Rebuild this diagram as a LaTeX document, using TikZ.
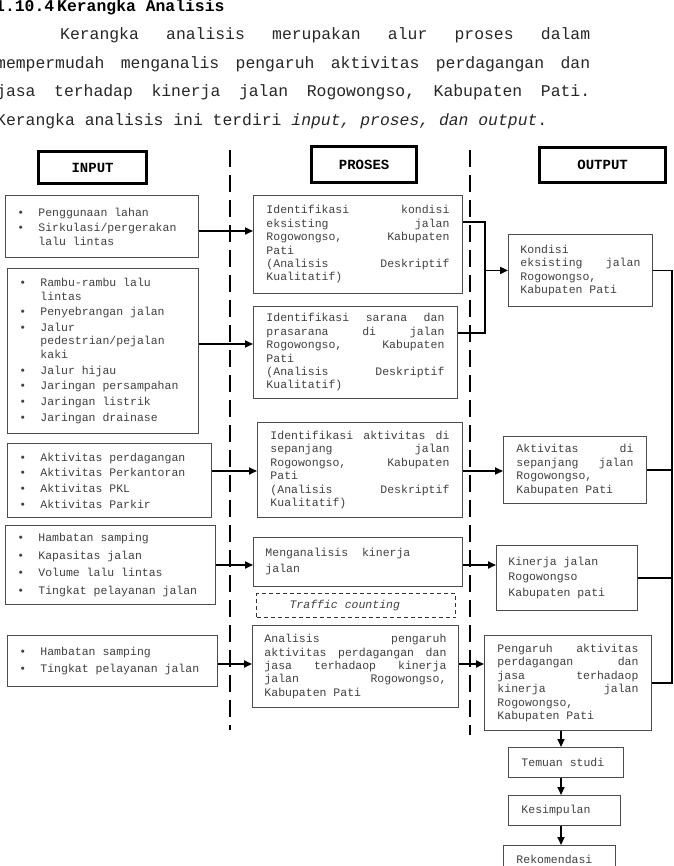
\documentclass[tikz,border=0pt]{standalone}
\usepackage{fontspec}
\newfontfamily\cour{Liberation Mono}
\usetikzlibrary{arrows.meta}
\setlength{\parindent}{0pt}

\newcommand{\itm}{\makebox[21pt][l]{\textbullet}}
\newcommand{\cnt}{\hspace*{21pt}}

\tikzset{
  box/.style={draw=black!70, line width=0.9pt, anchor=north west, inner ysep=0pt, align=left, text=black!75, font=\cour\fontsize{11.5}{13.4}\selectfont,
    execute at begin node={\spaceskip=0.6em\relax\xspaceskip=0.6em\relax}},
  title/.style={draw, line width=3.2pt, anchor=north west, inner sep=0pt, font=\cour\bfseries\fontsize{14}{16}\selectfont},
  arr/.style={line width=1.8pt, -{Triangle[length=8pt,width=7pt]}},
  ln/.style={line width=1.8pt},
  divider/.style={line width=2.5pt, dash pattern=on 17pt off 8pt},
  para/.style={anchor=base west, inner sep=0pt, text=black!85, font=\cour\fontsize{16.4}{20}\selectfont,
    execute at begin node={\spaceskip=0.6em\relax\xspaceskip=0.6em\relax}},
}

\begin{document}
\begin{tikzpicture}[x=1pt,y=-1pt]
\useasboundingbox (0,0) rectangle (673,866);

% heading and paragraph
\node[para, font=\cour\bfseries\fontsize{16.4}{20}\selectfont, text=black] (hd) at (-5,12) {1.10.4\hspace{3pt}Kerangka Analisis};
\node[para, text width=530pt] (l1) at (60,40) {Kerangka \hfill analisis \hfill merupakan \hfill alur \hfill proses \hfill dalam};
\node[para, text width=594pt] (l2) at (-4,68.5) {mempermudah \hfill menganalis \hfill pengaruh \hfill aktivitas \hfill perdagangan \hfill dan};
\node[para, text width=594pt] (l3) at (-4,97) {jasa \hfill terhadap \hfill kinerja \hfill jalan \hfill Rogowongso, \hfill Kabupaten \hfill Pati.};
\node[para] (l4) at (-4,125.5) {Kerangka analisis ini terdiri \textit{input, proses, dan output}.};

% column titles
\node[title, minimum width=108pt, minimum height=32pt] (tin) at (37,150) {INPUT};
\node[title, minimum width=105pt, minimum height=36pt] (tpr) at (310,145) {PROSES};
\node[title, minimum width=126pt, minimum height=35pt] (tout) at (538,146) {OUTPUT};

% dividers
\draw[divider] (230,150) -- (230,730);
\draw[divider] (470,150) -- (470,735);

% input
\node[box, inner xsep=12pt, text width=169pt, minimum height=62pt] (in1) at (5,195)
  {\itm Penggunaan lahan\\[2.3pt]\itm Sirkulasi/pergerakan\\\cnt lalu lintas};
\node[box, inner xsep=12pt, text width=167pt, minimum height=165pt] (in2) at (7,268)
  {\itm Rambu-rambu lalu\\\cnt lintas\\[2.3pt]\itm Penyebrangan jalan\\[2.3pt]\itm Jalur\\\cnt pedestrian/pejalan\\\cnt kaki\\[2.3pt]\itm Jalur hijau\\[2.3pt]\itm Jaringan persampahan\\[2.3pt]\itm Jaringan listrik\\[2.3pt]\itm Jaringan drainase};
\node[box, inner xsep=12pt, text width=180pt, minimum height=74pt] (in3) at (7,443)
  {\itm Aktivitas perdagangan\\[2.3pt]\itm Aktivitas Perkantoran\\[2.3pt]\itm Aktivitas PKL\\[2.3pt]\itm Aktivitas Parkir};
\node[box, inner xsep=12pt, text width=186pt, minimum height=79pt] (in4) at (5,525)
  {\itm Hambatan samping\\[4.3pt]\itm Kapasitas jalan\\[4.3pt]\itm Volume lalu lintas\\[4.3pt]\itm Tingkat pelayanan jalan};
\node[box, inner xsep=12pt, text width=186pt, minimum height=51pt] (in5) at (7,635)
  {\itm Hambatan samping\\[4.3pt]\itm Tingkat pelayanan jalan};

% proses
\node[box, inner xsep=13pt, text width=183pt, minimum height=98pt] (p1) at (253,195)
  {Identifikasi \hfill kondisi\\eksisting \hfill jalan\\Rogowongso, \hfill Kabupaten\\Pati\\(Analisis \hfill Deskriptif\\Kualitatif)};
\node[box, inner xsep=13pt, text width=178pt, minimum height=92pt] (p2) at (253,306)
  {Identifikasi \hfill sarana \hfill dan\\prasarana \hfill di \hfill jalan\\Rogowongso, \hfill Kabupaten\\Pati\\(Analisis \hfill Deskriptif\\Kualitatif)};
\node[box, inner xsep=13pt, text width=179pt, minimum height=95pt] (p3) at (257,422)
  {Identifikasi \hfill aktivitas \hfill di\\sepanjang \hfill jalan\\Rogowongso, \hfill Kabupaten\\Pati\\(Analisis \hfill Deskriptif\\Kualitatif)};
\node[box, inner xsep=12pt, text width=185pt, minimum height=49pt] (p4) at (253,537)
  {Menganalisis\hspace{13.8pt}kinerja\\[2.6pt]jalan};
\node[box, draw=black!80, dash pattern=on 4pt off 3pt, line width=1.1pt, inner xsep=33pt, text width=133pt, minimum height=24pt] (trf) at (256,593)
  {\textit{Traffic counting}};
\node[box, inner xsep=12pt, text width=182pt, minimum height=82pt] (p5) at (252,625)
  {Analisis \hfill pengaruh\\aktivitas \hfill perdagangan \hfill dan\\jasa \hfill terhadaop \hfill kinerja\\jalan \hfill Rogowongso,\\Kabupaten Pati};

% output
\node[box, inner xsep=12pt, text width=120pt, minimum height=72pt] (out1) at (508,234)
  {Kondisi\\eksisting \hfill jalan\\Rogowongso,\\Kabupaten Pati};
\node[box, inner xsep=13pt, text width=117pt, minimum height=67pt] (out2) at (503,436)
  {Aktivitas \hfill di\\sepanjang \hfill jalan\\Rogowongso,\\Kabupaten Pati};
\node[box, inner xsep=12pt, text width=117pt, minimum height=65pt] (out3) at (496,545)
  {Kinerja jalan\\[2.3pt]Rogowongso\\[2.3pt]Kabupaten pati};
\node[box, inner xsep=13pt, text width=141pt, minimum height=95pt] (out4) at (484,635)
  {Pengaruh \hfill aktivitas\\perdagangan \hfill dan\\jasa \hfill terhadaop\\kinerja \hfill jalan\\Rogowongso,\\Kabupaten Pati};
\node[box, inner xsep=13pt, text width=89pt, minimum height=30pt] (tem) at (508,747) {Temuan studi};
\node[box, inner xsep=13pt, text width=86pt, minimum height=30pt] (kes) at (508,795) {Kesimpulan};
\node[box, inner xsep=13pt, text width=86pt, minimum height=28pt] (rek) at (503,845) {Rekomendasi};

% rows and turning points
\coordinate (r1) at (0,231);
\coordinate (r2) at (0,344);
\coordinate (r3) at (0,471);
\coordinate (r4) at (0,565);
\coordinate (r5) at (0,664);
\coordinate (b1) at (485,222);
\coordinate (b2) at (485,333);
\coordinate (cx) at (672,0);
\coordinate (vx) at (561,0);

% input -> proses
\draw[arr] (in1.east |- r1) -- (p1.west |- r1);
\draw[arr] (in2.east |- r2) -- (p2.west |- r2);
\draw[arr] (in3.east |- r3) -- (p3.west |- r3);
\draw[arr] (in4.east |- r4) -- (p4.west |- r4);
\draw[arr] (in5.east |- r5) -- (p5.west |- r5);

% proses -> output
\draw[ln] (p1.east |- b1) -- (b1) -- (b2) -- (p2.east |- b2);
\draw[arr] (b1 |- out1.west) -- (out1.west);
\draw[arr] (p3.east |- r3) -- (out2.west |- r3);
\draw[arr] (p4.east |- r4) -- (out3.west |- r4);
\draw[arr] (p5.east |- r5) -- (out4.west |- r5);

% output collector
\draw[ln] (out1.east) -| (cx |- out4.east) -- (out4.east);
\draw[ln] (out2.east) -- (out2.east -| cx);
\draw[ln] (out3.east) -- (out3.east -| cx);

% final chain
\draw[arr] (out4.south -| vx) -- (tem.north -| vx);
\draw[arr] (tem.south -| vx) -- (kes.north -| vx);
\draw[arr] (kes.south -| vx) -- (rek.north -| vx);
\end{tikzpicture}
\end{document}
